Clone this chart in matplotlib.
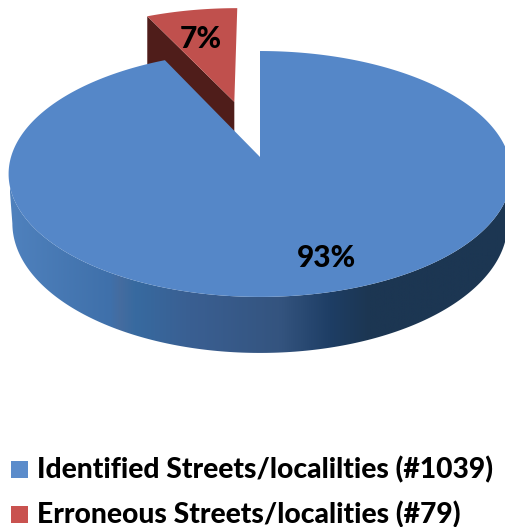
import numpy as np
import matplotlib
matplotlib.use("Agg")
import matplotlib.pyplot as plt
from matplotlib.colors import LinearSegmentedColormap
from matplotlib.patches import Polygon, Rectangle

labels = ["Identified Streets/localilties", "Erroneous Streets/localities"]
counts = [1039, 79]

BLUE = "#5587c8"
RED = "#c0504d"
RED_DARK = "#4f1d1a"
WIDTH, HEIGHT = 505, 527

# perspective of the pie plane
CX, CY = 260, 157
K = 0.138
A = 120.6
B = 249.0
EXPLODE = 0.5


def project(u, v, drop=0.0, xscale=1.0):
    d = 1 + K * v
    return CX + xscale * B * u / d, CY + (-A * v + drop) / d


def rim(t0, t1, n=200, shift=(0, 0), drop=0.0, xscale=1.0):
    t = np.radians(np.linspace(t0, t1, n))
    return project(np.sin(t) + shift[0], np.cos(t) + shift[1], drop, xscale)


plt.rcParams["font.family"] = ["Lato", "DejaVu Sans"]
fig = plt.figure(figsize=(WIDTH / 100, HEIGHT / 100), dpi=100)
ax = fig.add_axes([0, 0, 1, 1])

total = sum(counts)
red_angle = 360 * counts[1] / total

# red slice pulled out along its bisector
mid = np.radians(-red_angle / 2)
shift = (EXPLODE * np.sin(mid), EXPLODE * np.cos(mid))
ax0 = project(shift[0], shift[1])
ax0_low = project(shift[0], shift[1], drop=60)
rx, ry = rim(-red_angle, 0, 40, shift=shift)
rx_low, ry_low = rim(-red_angle, -red_angle, 2, shift=shift, drop=60)
ax.add_patch(Polygon(np.c_[[ax0[0], rx[0], rx_low[0], ax0_low[0]],
                           [ax0[1], ry[0], ry_low[0], ax0_low[1]]],
                     fc=RED_DARK, ec="none", zorder=2))
ax.add_patch(Polygon(np.c_[np.r_[ax0[0], rx], np.r_[ax0[1], ry]],
                     fc=RED, ec="none", zorder=3))

# side wall of the blue slice, shaded from left to right
# both rims stop at their widest point so the outline stays straight at the sides
ux, uy = rim(98, 262)
lx, ly = rim(98, 262, drop=48.3, xscale=0.985)
wall = Polygon(np.c_[np.r_[lx, ux[::-1]], np.r_[ly, uy[::-1]]], fc="none", ec="none")
ax.add_patch(wall)
stops = [(0.0, "#4f81bd"), (0.2, "#3f70aa"), (0.22, "#456c9f"), (0.25, "#376aa0"),
         (0.36, "#3a5f92"), (0.54, "#34547f"), (0.64, "#1e3e65"), (0.72, "#1c3652"),
         (1.0, "#1c3652")]
shade = LinearSegmentedColormap.from_list("wall", stops)
img = ax.imshow(np.linspace(0, 1, 512)[None, :], cmap=shade, aspect="auto",
                extent=(10, 510, 360, 150), zorder=4)
img.set_clip_path(wall)

# top face of the blue slice
fx, fy = rim(0, 360 - red_angle, 400)
ax.add_patch(Polygon(np.c_[np.r_[CX, fx], np.r_[CY, fy]], fc=BLUE, ec="none", zorder=5))

pcts = [f"{round(100 * c / total)}%" for c in counts]
ax.text(326, 258, pcts[0], ha="center", va="center", fontsize=21.5, fontweight=900,
        color="black", zorder=6)
ax.text(201, 39, pcts[1], ha="center", va="center", fontsize=21.5, fontweight=900,
        color="black", zorder=6)

# legend
colors = ["#5b8ccb", "#c9524f"]
for i, y in enumerate([478, 523]):
    ax.add_patch(Rectangle((11, y - 17), 17, 17, fc=colors[i], ec="none"))
    ax.text(37, y, f"{labels[i]} (#{counts[i]})", ha="left", va="baseline",
            fontsize=20.3, fontweight=900, color="black")

ax.set_xlim(0, WIDTH)
ax.set_ylim(HEIGHT, 0)
ax.axis("off")
fig.savefig("out.png", dpi=100)
